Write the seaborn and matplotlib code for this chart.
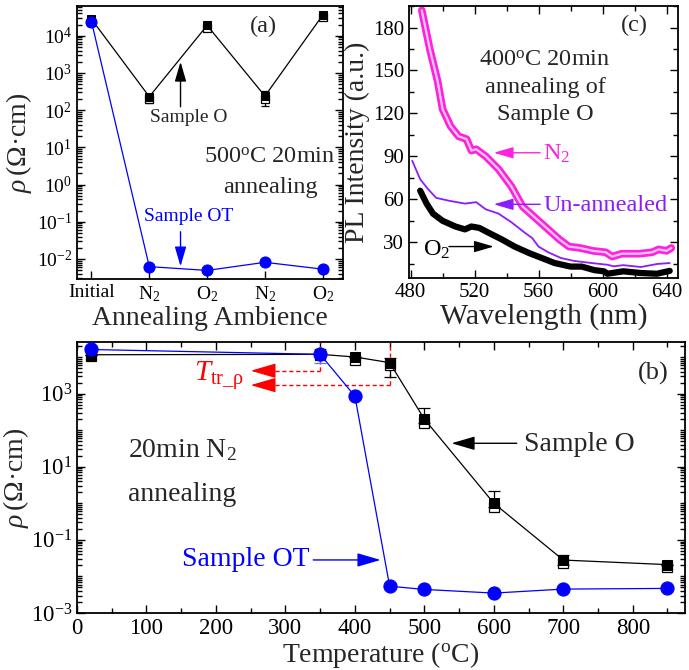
import matplotlib
matplotlib.use("Agg")
import matplotlib.pyplot as plt
import matplotlib.ticker as mticker
import seaborn as sns
import numpy as np

# ---- data: panel (a) 500C anneal in different ambiences ----
amb_pos = [0, 1, 2, 3, 4]
amb_labels = ["Initial", "N$_2$", "O$_2$", "N$_2$", "O$_2$"]
rho_a_O = [2.8e4, 2.3e2, 1.9e4, 2.4e2, 3.6e4]
rho_a_O_open = [2.4e4, 1.95e2, 1.65e4, 2.05e2, 3.2e4]
rho_a_O_err_lo = [3e3, 70, 2e3, 110, 3e3]
rho_a_O_err_hi = [3e3, 50, 2e3, 90, 3e3]
rho_a_OT = [2.4e4, 6.2e-3, 4.9e-3, 8.1e-3, 5.3e-3]

# ---- data: panel (b) 20min N2 anneal vs temperature ----
temps = [20, 350, 400, 450, 500, 600, 700, 850]
rho_b_O = [1.15e4, 1.18e4, 1.0e4, 7.0e3, 2.0e2, 1.0, 2.8e-2, 2.1e-2]
rho_b_O_open = [1.05e4, 1.1e4, 8.1e3, 6.0e3, 1.6e2, 0.81, 2.3e-2, 1.8e-2]
rho_b_O_err_lo = [0, 0, 0, 4.2e3, 40, 0.2, 7e-3, 0]
rho_b_O_err_hi = [0, 0, 0, 2.6e3, 215, 1.1, 1e-2, 0]
rho_b_OT = [1.6e4, 1.18e4, 850, 5.4e-3, 4.4e-3, 3.5e-3, 4.5e-3, 4.7e-3]
rho_b_OT_err = [0, 5e3, 0, 0, 0, 0, 0, 0]
t_tr = [350, 450]
rho_tr = [4.2e3, 1.7e3]

# ---- data: panel (c) PL spectra ----
wl_n2 = [487, 492, 497, 500, 505, 510, 515, 518, 521, 527, 535, 543, 550, 560,
         566, 573, 579, 586, 594, 602, 606, 612, 623, 631, 635, 640, 643]
pl_n2 = [192, 165, 142, 123, 111, 104, 102, 94, 95, 90, 81, 69, 55, 45,
         39, 32, 27, 26, 24, 23, 20, 22, 22, 23, 25, 24, 26]
wl_un = [481, 486, 491, 496, 504, 514, 521, 527, 535, 543, 551, 556, 560, 566,
         574, 582, 593, 603, 607, 613, 624, 634, 642]
pl_un = [87, 74, 67, 61, 59, 57, 58, 53, 50, 44, 37, 33, 27, 23,
         19, 17, 15.5, 14.3, 13.2, 14, 12.7, 14.8, 15.5]
wl_o2 = [486, 490, 494, 500, 508, 514, 518, 523, 529, 537, 545, 554, 562, 570,
         580, 587, 595, 601, 603, 613, 624, 634, 642]
pl_o2 = [66, 57, 50, 45, 41, 39, 41, 40, 36.5, 32, 27, 22.5, 19, 15.5,
         13, 13, 10.5, 9.7, 8, 9.7, 8.5, 8, 10]

sns.set_theme(style="ticks")
plt.rcParams["font.family"] = ["Liberation Serif", "DejaVu Serif"]
plt.rcParams["mathtext.fontset"] = "custom"
plt.rcParams["mathtext.rm"] = "Liberation Serif"
plt.rcParams["mathtext.it"] = "Liberation Serif:italic"
plt.rcParams["mathtext.bf"] = "Liberation Serif:bold"
plt.rcParams["axes.linewidth"] = 1.3
plt.rcParams["axes.edgecolor"] = "black"

BLUE = "#0000ff"
MAG = "#ff22dd"
PUR = "#8a1cff"
RED = "#ff0000"

fig = plt.figure(figsize=(6.89, 6.70), dpi=100)
ax_a = fig.add_axes([0.1118, 0.5836, 0.386, 0.4074])
ax_c = fig.add_axes([0.5936, 0.585, 0.390, 0.406])
ax_b = fig.add_axes([0.1118, 0.0851, 0.8822, 0.4045])


def style_ticks(ax, size):
    ax.tick_params(which="both", direction="in", top=True, right=True,
                   labelsize=size, width=1.0, colors="black")
    ax.tick_params(which="major", length=6)
    ax.tick_params(which="minor", length=3.5)
    for s in ax.spines.values():
        s.set_color("black")


def arrow(ax, xy, xytext, color, lw=1.0, scale=10):
    ax.annotate("", xy=xy, xytext=xytext,
                arrowprops=dict(arrowstyle="-|>,head_length=1.2,head_width=0.35",
                                color=color, lw=lw, shrinkA=0, shrinkB=0,
                                mutation_scale=scale))


# ===== panel (a) =====
ax = ax_a
ax.set_yscale("log")
ax.errorbar(amb_pos, rho_a_O, yerr=[rho_a_O_err_lo, rho_a_O_err_hi], fmt="none",
            ecolor="black", elinewidth=0.9, capsize=3, capthick=0.9)
sns.lineplot(x=amb_pos, y=rho_a_O, color="black", lw=0.9, marker="s",
             markersize=6, markeredgecolor="black", ax=ax, zorder=3)
sns.lineplot(x=amb_pos, y=rho_a_O_open, color="black", lw=0, marker="s",
             markersize=6, markerfacecolor="white", markeredgecolor="black",
             markeredgewidth=0.9, ax=ax, zorder=2)
sns.lineplot(x=amb_pos, y=rho_a_OT, color=BLUE, lw=0.9, marker="o",
             markersize=8, markeredgecolor=BLUE, ax=ax, zorder=4)
ax.set_xlim(-0.25, 4.35)
ax.set_ylim(10 ** -2.54, 10 ** 4.8)
ax.set_xticks(amb_pos)
ax.set_xticklabels(amb_labels)
ax.yaxis.set_major_locator(mticker.LogLocator(base=10, numticks=20))
ax.yaxis.set_minor_locator(mticker.LogLocator(base=10, subs=np.arange(2, 10), numticks=20))
ax.yaxis.set_minor_formatter(mticker.NullFormatter())
style_ticks(ax, 14)
ax.tick_params(axis="x", which="both", top=False)
ax.set_xlabel("Annealing Ambience", fontsize=20, labelpad=2)
ax.set_ylabel(r"$\rho\,$(Ω·cm)", fontsize=20, labelpad=2)
ax.text(0.70, 0.925, "(a)", transform=ax.transAxes, fontsize=17.5, ha="center", va="center")
ax.text(0.726, 0.447, "500$^{\\rm o}$C 20min", transform=ax.transAxes, fontsize=17.5,
        ha="center", va="center")
ax.text(0.726, 0.337, "annealing", transform=ax.transAxes, fontsize=17.5,
        ha="center", va="center")
ax.text(1.68, 10 ** 1.8, "Sample O", fontsize=14, ha="center", va="center")
arrow(ax, (1.54, 10 ** 3.3), (1.54, 10 ** 2.09), "black")
ax.text(1.68, 10 ** -0.87, "Sample OT", fontsize=14, ha="center", va="center", color=BLUE)
arrow(ax, (1.54, 10 ** -2.2), (1.54, 10 ** -1.27), BLUE)

# ===== panel (c) =====
ax = ax_c
sns.lineplot(x=wl_un, y=pl_un, color=PUR, lw=1.3, ax=ax, sort=False)
sns.lineplot(x=wl_o2, y=pl_o2, color="black", lw=4.5, ax=ax, sort=False)
sns.lineplot(x=wl_n2, y=pl_n2, color=MAG, lw=5.5, ax=ax, sort=False)
sns.lineplot(x=wl_n2, y=pl_n2, color="#ffc8f4", lw=1.6, ax=ax, sort=False)
ax.set_xlim(479, 647)
ax.set_ylim(5, 195)
ax.xaxis.set_major_locator(mticker.MultipleLocator(40))
ax.xaxis.set_minor_locator(mticker.MultipleLocator(20))
ax.set_yticks([30, 60, 90, 120, 150, 180])
ax.yaxis.set_minor_locator(mticker.MultipleLocator(15))
style_ticks(ax, 15)
ax.set_xlabel("Wavelength (nm)", fontsize=21.5, labelpad=1)
ax.set_ylabel("PL Intensity (a.u.)", fontsize=20, labelpad=2)
ax.text(0.84, 0.93, "(c)", transform=ax.transAxes, fontsize=17.5, ha="center", va="center")
for yy, s in [(0.80, "400$^{\\rm o}$C 20min"), (0.70, "annealing of"), (0.60, "Sample O")]:
    ax.text(0.506, yy, s, transform=ax.transAxes, fontsize=17.5, ha="center", va="center")
ax.text(563, 92, "N$_2$", fontsize=17.5, color=MAG, ha="left", va="center")
arrow(ax, (532, 92.5), (561, 92.5), MAG)
ax.text(563, 56, "Un-annealed", fontsize=17.5, color=PUR, ha="left", va="center")
arrow(ax, (532, 56.5), (561, 56.5), PUR)
ax.text(488, 25, "O$_2$", fontsize=17.5, color="black", ha="left", va="center")
arrow(ax, (532, 27), (504, 27), "black")

# ===== panel (b) =====
ax = ax_b
ax.set_yscale("log")
ax.set_xlim(0, 875)
ax.set_ylim(1e-3, 10 ** 4.41)
top = 10 ** 4.41
ax.vlines(t_tr, rho_tr, top, colors=RED, linestyles=(0, (3, 2)), lw=1.0)
ax.hlines(rho_tr, 265, t_tr, colors=RED, linestyles=(0, (3, 2)), lw=1.0)
for yv in rho_tr:
    arrow(ax, (250, yv), (272, yv), RED, lw=1.0, scale=13)
ax.errorbar(temps, rho_b_O, yerr=[rho_b_O_err_lo, rho_b_O_err_hi], fmt="none",
            ecolor="black", elinewidth=0.9, capsize=4, capthick=0.9)
ax.errorbar(temps, rho_b_OT, yerr=rho_b_OT_err, fmt="none", ecolor="#6a6aff",
            elinewidth=0.9, capsize=4, capthick=0.9)
sns.lineplot(x=temps, y=rho_b_O, color="black", lw=0.9, marker="s",
             markersize=7, markeredgecolor="black", ax=ax, zorder=3)
sns.lineplot(x=temps, y=rho_b_O_open, color="black", lw=0, marker="s",
             markersize=7, markerfacecolor="white", markeredgecolor="black",
             markeredgewidth=0.9, ax=ax, zorder=2)
sns.lineplot(x=temps, y=rho_b_OT, color=BLUE, lw=0.9, marker="o",
             markersize=9.5, markeredgecolor=BLUE, ax=ax, zorder=4)
ax.xaxis.set_major_locator(mticker.MultipleLocator(100))
ax.xaxis.set_minor_locator(mticker.MultipleLocator(50))
ax.yaxis.set_major_locator(mticker.FixedLocator([1e-3, 1e-1, 1e1, 1e3]))
ax.yaxis.set_major_formatter(mticker.LogFormatterSciNotation())
ax.yaxis.set_minor_locator(mticker.LogLocator(base=10, subs=np.arange(1, 10), numticks=20))
ax.yaxis.set_minor_formatter(mticker.NullFormatter())
style_ticks(ax, 16.5)
ax.set_xlabel("Temperature ($^{\\rm o}$C)", fontsize=20, labelpad=1)
ax.set_ylabel(r"$\rho\,$(Ω·cm)", fontsize=20, labelpad=0)
ax.text(829, 10 ** 3.55, "(b)", fontsize=19, ha="center", va="center")
ax.text(205, 10 ** 3.48, r"$T_{\rm tr\_\rho}$", fontsize=21, color=RED,
        ha="center", va="center")
ax.text(73, 10 ** 1.45, "20min N$_2$", fontsize=20, ha="left", va="center")
ax.text(73, 10 ** 0.25, "annealing", fontsize=20, ha="left", va="center")
ax.text(643, 10 ** 1.62, "Sample O", fontsize=20, ha="left", va="center")
arrow(ax, (539, 10 ** 1.64), (633, 10 ** 1.64), "black", scale=12)
ax.text(334, 10 ** -1.55, "Sample OT", fontsize=20, ha="right", va="center", color=BLUE)
arrow(ax, (437, 10 ** -1.55), (340, 10 ** -1.55), BLUE, scale=12)

fig.savefig("out.png", dpi=100)
